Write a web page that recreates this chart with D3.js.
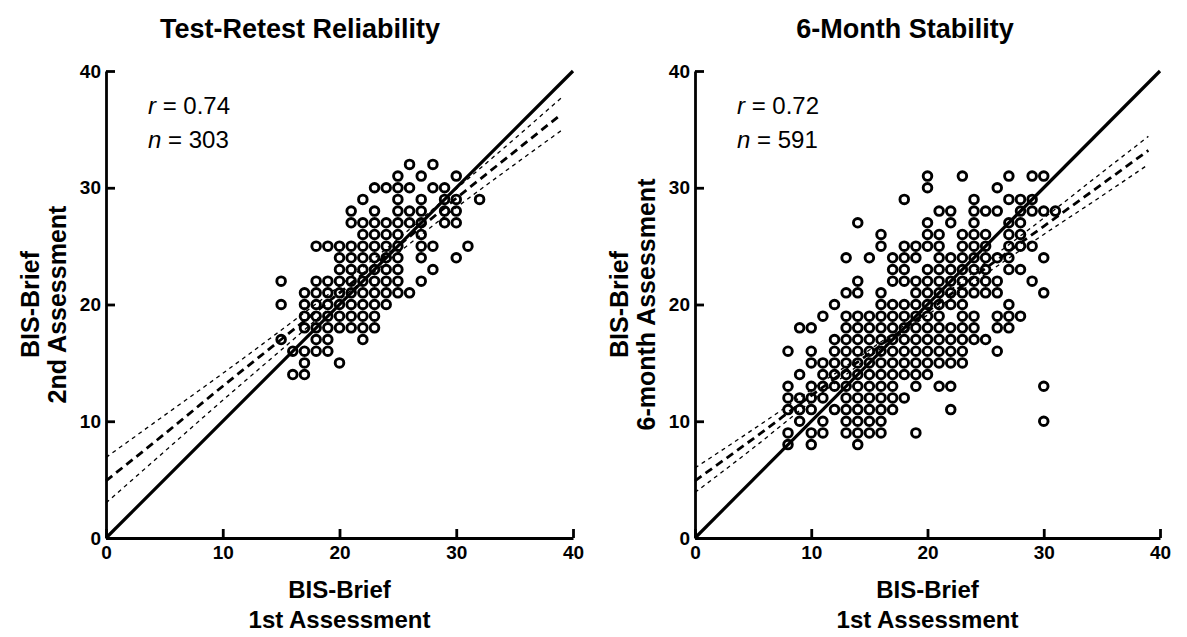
<!DOCTYPE html>
<html>
<head>
<meta charset="utf-8">
<script src="https://cdn.jsdelivr.net/npm/d3@7"></script>
<style>
  body { margin: 0; background: #fff; }
  svg text { font-family: "Liberation Sans", Arial, sans-serif; fill: #000; }
  .tick text { font-weight: bold; font-size: 19px; }
  .domain, .tick line { stroke: #000; stroke-width: 2.8px; }
</style>
</head>
<body>
<svg id="chart" width="1187" height="637"></svg>
<script>
// axis ticks shared by both panels
const tickValues = [0, 10, 20, 30, 40];

// Test-retest scatter, one entry per row: y value and the x values on it
const retestRows = [
  [32, [26, 28]],
  [31, [25, 27, 30]],
  [30, [23, 24, 25, 26, 28, 29]],
  [29, [22, 25, 27, 29, 30, 32]],
  [28, [21, 23, 25, 26, 27, 29, 30]],
  [27, [21, 22, 23, 24, 25, 26, 27, 29, 30]],
  [26, [22, 23, 24, 25, 27]],
  [25, [18, 19, 20, 21, 22, 23, 24, 25, 27, 28, 31]],
  [24, [20, 21, 22, 23, 24, 25, 27, 30]],
  [23, [20, 21, 22, 23, 24, 25, 28]],
  [22, [15, 18, 19, 20, 21, 22, 23, 24, 25, 27]],
  [21, [17, 18, 19, 20, 21, 22, 23, 24, 25, 26]],
  [20, [15, 17, 18, 19, 20, 21, 22, 23, 24]],
  [19, [17, 18, 19, 20, 21, 22, 23]],
  [18, [17, 18, 19, 20, 21, 22, 23]],
  [17, [15, 18, 19, 22]],
  [16, [16, 17, 18, 19]],
  [15, [17, 20]],
  [14, [16, 17]]
];

// 6-month scatter
const stabilityRows = [
  [31, [20, 23, 27, 29, 30]],
  [30, [20, 26]],
  [29, [18, 24, 27, 28, 29]],
  [28, [21, 22, 24, 25, 26, 28, 29, 30, 31]],
  [27, [14, 20, 22, 24, 27, 28]],
  [26, [16, 20, 21, 23, 24, 25, 27, 28]],
  [25, [16, 18, 19, 20, 21, 23, 24, 25, 27, 28, 29]],
  [24, [13, 15, 17, 18, 19, 21, 22, 23, 24, 25, 26, 27, 30]],
  [23, [17, 18, 20, 21, 22, 23, 24, 25, 27, 28]],
  [22, [14, 17, 18, 19, 20, 21, 22, 23, 24, 25, 26, 29]],
  [21, [13, 14, 16, 19, 20, 21, 22, 23, 24, 25, 26, 30]],
  [20, [12, 16, 17, 18, 19, 20, 21, 22, 23, 27]],
  [19, [11, 13, 14, 15, 16, 17, 18, 19, 20, 21, 23, 24, 26, 27, 28]],
  [18, [9, 10, 13, 14, 15, 16, 17, 18, 19, 20, 21, 22, 23, 24, 26, 27]],
  [17, [12, 13, 14, 15, 16, 17, 18, 19, 20, 21, 22, 23, 24, 25]],
  [16, [8, 10, 12, 13, 14, 15, 16, 17, 18, 19, 20, 21, 22, 23, 26]],
  [15, [10, 11, 12, 13, 14, 15, 16, 17, 18, 19, 20, 21, 22, 23]],
  [14, [9, 11, 12, 13, 14, 15, 16, 17, 18, 19, 20]],
  [13, [8, 10, 11, 12, 13, 14, 15, 16, 17, 19, 21, 22, 30]],
  [12, [8, 9, 10, 11, 13, 14, 15, 16, 17, 18]],
  [11, [8, 9, 10, 12, 13, 14, 15, 16, 17, 22]],
  [10, [9, 11, 13, 14, 15, 16, 30]],
  [9, [8, 10, 11, 13, 14, 15, 16, 19]],
  [8, [8, 10, 14]]
];

// regression line and 95% band
const bandX = [0, 5, 10, 15, 20, 25, 30, 35, 39];
const retestFit   = [4.9, 8.9, 13.0, 17.0, 21.0, 25.0, 29.1, 33.1, 36.3];
const retestUpper = [6.9, 10.5, 14.1, 17.8, 21.6, 25.6, 29.9, 34.2, 37.7];
const retestLower = [3.0, 7.4, 11.8, 16.1, 20.4, 24.4, 28.3, 32.0, 34.9];
const stabilityFit   = [4.9, 8.5, 12.2, 15.8, 19.4, 23.1, 26.7, 30.3, 33.2];
const stabilityUpper = [6.0, 9.3, 12.7, 16.1, 19.7, 23.6, 27.4, 31.3, 34.4];
const stabilityLower = [3.9, 7.7, 11.7, 15.5, 19.1, 22.6, 26.0, 29.3, 32.0];

const panels = [
  { title: "Test-Retest Reliability", yLabel: ["BIS-Brief", "2nd Assessment"],
    r: "0.74", n: "303", rows: retestRows,
    fit: retestFit, upper: retestUpper, lower: retestLower,
    left: 106, right: 573, titleX: 300 },
  { title: "6-Month Stability", yLabel: ["BIS-Brief", "6-month Assessment"],
    r: "0.72", n: "591", rows: stabilityRows,
    fit: stabilityFit, upper: stabilityUpper, lower: stabilityLower,
    left: 695, right: 1160, titleX: 905 }
];

const svg = d3.select("#chart");
const plotTop = 71, plotBottom = 538;

panels.forEach(p => {
  const x = d3.scaleLinear().domain([0, 40]).range([p.left, p.right]);
  const y = d3.scaleLinear().domain([0, 40]).range([plotBottom, plotTop]);
  const g = svg.append("g");

  // points
  const pts = [];
  p.rows.forEach(([yv, xs]) => xs.forEach(xv => pts.push([xv, yv])));
  g.selectAll("circle").data(pts).enter().append("circle")
    .attr("cx", d => x(d[0]))
    .attr("cy", d => y(d[1]))
    .attr("r", 4.3)
    .attr("fill", "none")
    .attr("stroke", "#000")
    .attr("stroke-width", 2.9);

  const line = d3.line().curve(d3.curveMonotoneX)
    .x((d, i) => x(bandX[i])).y(d => y(d));

  [[p.upper, 1.3, "4,4"], [p.lower, 1.3, "4,4"], [p.fit, 2.8, "8,5"]].forEach(([vals, w, dash]) => {
    g.append("path").datum(vals)
      .attr("d", line)
      .attr("fill", "none")
      .attr("stroke", "#000")
      .attr("stroke-width", w)
      .attr("stroke-dasharray", dash);
  });

  // line of identity
  g.append("line")
    .attr("x1", x(0)).attr("y1", y(0))
    .attr("x2", x(40)).attr("y2", y(40))
    .attr("stroke", "#000").attr("stroke-width", 3.2);

  // axes, ticks point inward
  g.append("g").attr("transform", `translate(0,${plotBottom})`)
    .call(d3.axisBottom(x).tickValues(tickValues).tickSize(-9).tickSizeOuter(0).tickPadding(8));
  g.append("g").attr("transform", `translate(${p.left},0)`)
    .call(d3.axisLeft(y).tickValues(tickValues).tickSize(-9).tickSizeOuter(0).tickPadding(5));

  // title
  g.append("text").attr("x", p.titleX).attr("y", 38)
    .attr("text-anchor", "middle").attr("font-weight", "bold").attr("font-size", 27)
    .text(p.title);

  // x label
  const cx = (p.left + p.right) / 2;
  g.append("text").attr("x", cx).attr("y", 598).attr("text-anchor", "middle")
    .attr("font-weight", "bold").attr("font-size", 24).text("BIS-Brief");
  g.append("text").attr("x", cx).attr("y", 628).attr("text-anchor", "middle")
    .attr("font-weight", "bold").attr("font-size", 24).text("1st Assessment");

  // y label
  const cy = (plotTop + plotBottom) / 2;
  p.yLabel.forEach((t, i) => {
    g.append("text")
      .attr("transform", `translate(${p.left - 67 + i * 27},${cy}) rotate(-90)`)
      .attr("text-anchor", "middle").attr("font-weight", "bold").attr("font-size", 25)
      .text(t);
  });

  // stats
  const sx = p.left + 42;
  const t1 = g.append("text").attr("x", sx).attr("y", 114).attr("font-size", 24);
  t1.append("tspan").attr("font-style", "italic").text("r");
  t1.append("tspan").text(" = " + p.r);
  const t2 = g.append("text").attr("x", sx).attr("y", 148).attr("font-size", 24);
  t2.append("tspan").attr("font-style", "italic").text("n");
  t2.append("tspan").text(" = " + p.n);
});
</script>
</body>
</html>
